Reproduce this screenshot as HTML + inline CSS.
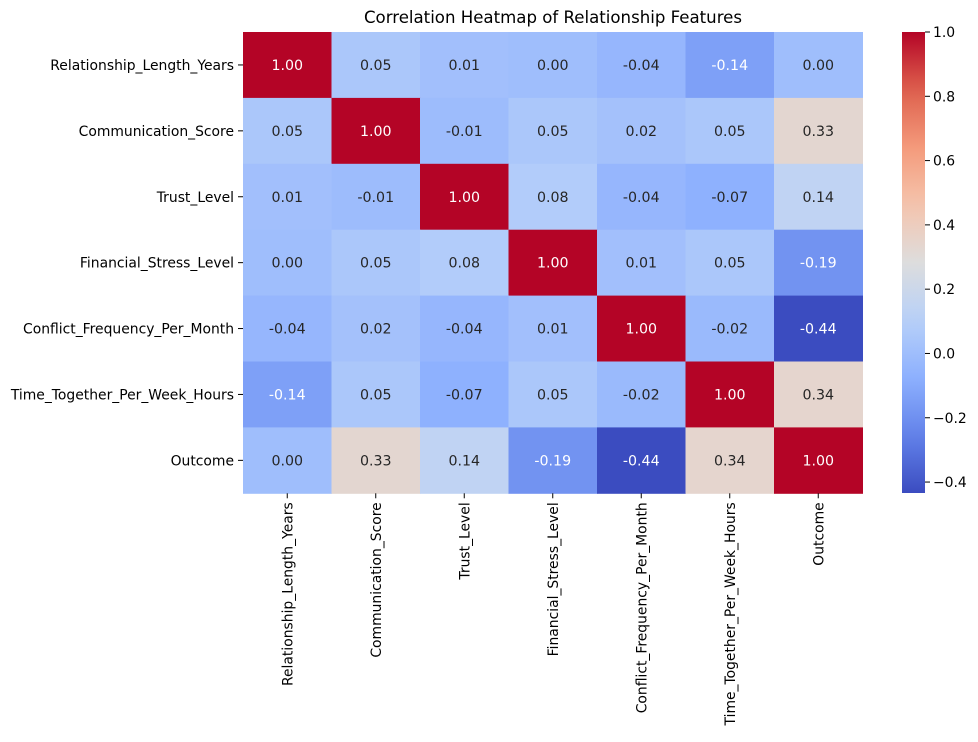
<!DOCTYPE html>
<html><head><meta charset="utf-8"><style>
body{margin:0;background:#fff;}
text{font-family:"DejaVu Sans","Liberation Sans",sans-serif;}
</style></head><body>
<svg id="chart" width="978" height="737" xmlns="http://www.w3.org/2000/svg">
<text x="553" y="23" text-anchor="middle" font-size="16.6">Correlation Heatmap of Relationship Features</text>
<g id="cells"></g><g id="ylab"></g><g id="xlab"></g>
<defs><linearGradient id="cbg" x1="0" y1="1" x2="0" y2="0" gradientUnits="objectBoundingBox"></linearGradient></defs>
<rect x="902" y="32" width="23" height="461" fill="url(#cbg)"/>
<g id="cbticks"></g>
</svg>
<script>
const labels=["Relationship_Length_Years","Communication_Score","Trust_Level","Financial_Stress_Level","Conflict_Frequency_Per_Month","Time_Together_Per_Week_Hours","Outcome"];
const matrix=[
[1.00,0.05,0.01,0.00,-0.04,-0.14,0.00],
[0.05,1.00,-0.01,0.05,0.02,0.05,0.33],
[0.01,-0.01,1.00,0.08,-0.04,-0.07,0.14],
[0.00,0.05,0.08,1.00,0.01,0.05,-0.19],
[-0.04,0.02,-0.04,0.01,1.00,-0.02,-0.44],
[-0.14,0.05,-0.07,0.05,-0.02,1.00,0.34],
[0.00,0.33,0.14,-0.19,-0.44,0.34,1.00]];
const cbTicks=[-0.4,-0.2,0.0,0.2,0.4,0.6,0.8,1.0];
const vmin=-0.435,vmax=1.0;
const L=243,T=32,W=619.5,H=461.3,CX=902,CW=23;
const NS="http://www.w3.org/2000/svg";
const cm=[[59,76,192],[98,130,234],[141,176,254],[184,208,249],[221,221,221],[245,196,173],[244,154,123],[222,96,77],[180,4,38]];
function col(v){let t=Math.max(0,Math.min(1,(v-vmin)/(vmax-vmin)))*8;let i=Math.min(7,Math.floor(t)),f=t-i;
return cm[i].map((c,k)=>Math.round(c+(cm[i+1][k]-c)*f));}
function lum(c){const l=c.map(x=>{x/=255;return x<=0.03928?x/12.92:Math.pow((x+0.055)/1.055,2.4)});return 0.2126*l[0]+0.7152*l[1]+0.0722*l[2];}
function mk(tag,a,p){const e=document.createElementNS(NS,tag);for(const k in a)e.setAttribute(k,a[k]);p.appendChild(e);return e;}
const n=labels.length,cw=W/n,ch=H/n;
const xs=i=>L+i*cw, ys=j=>T+j*ch, cy=v=>T+H-(v-vmin)/(vmax-vmin)*H;
const gc=document.getElementById('cells');
matrix.forEach((row,j)=>row.forEach((v,i)=>{
 const c=col(v);
 const r=mk('rect',{x:xs(i),y:ys(j),width:cw+0.5,height:ch+0.5,fill:`rgb(${c})`},gc);
 
 
 const t=mk('text',{x:xs(i)+cw/2,y:ys(j)+ch/2+5,'text-anchor':'middle','font-size':'14.2',fill:lum(c)>0.408?'#262626':'#fff'},gc);
 
 
 t.textContent=v.toFixed(2);
}));
const gy=document.getElementById('ylab'),gx=document.getElementById('xlab');
labels.forEach((s,j)=>{
 mk('line',{x1:L-5,x2:L,y1:ys(j)+ch/2,y2:ys(j)+ch/2,stroke:'#000'},gy);
 const t=mk('text',{x:L-9,y:ys(j)+ch/2+5,'text-anchor':'end','font-size':'13.9'},gy);
 
 
 t.textContent=s;
 const x=xs(j)+cw/2;
 mk('line',{x1:x,x2:x,y1:T+H,y2:T+H+5,stroke:'#000'},gx);
 const u=mk('text',{x:0,y:0,'text-anchor':'end','font-size':'13.9',transform:`translate(${x+5},${T+H+9}) rotate(-90)`},gx);
 
 
 u.textContent=s;
});
const g=document.getElementById('cbg');
for(let k=0;k<=20;k++){const v=vmin+(vmax-vmin)*k/20;mk('stop',{offset:k/20,'stop-color':`rgb(${col(v)})`},g);}
const gt=document.getElementById('cbticks');
cbTicks.forEach(v=>{const y=cy(v);
 mk('line',{x1:CX+CW,x2:CX+CW+5,y1:y,y2:y,stroke:'#000'},gt);
 const t=mk('text',{x:CX+CW+8,y:y+5,'font-size':'13.9'},gt);
 
 
 t.textContent=(v<0?'\u2212':'')+Math.abs(v).toFixed(1);
});
</script>
</body></html>
